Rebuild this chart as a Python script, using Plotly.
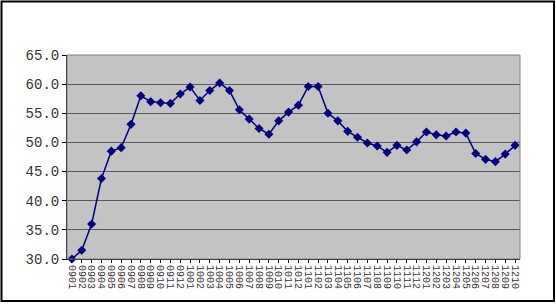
import plotly.graph_objects as go

months = ["0901","0902","0903","0904","0905","0906","0907","0908","0909","0910","0911","0912",
          "1001","1002","1003","1004","1005","1006","1007","1008","1009","1010","1011","1012",
          "1101","1102","1103","1104","1105","1106","1107","1108","1109","1110","1111","1112",
          "1201","1202","1203","1204","1205","1206","1207","1208","1209","1210"]
values = [30.0, 31.5, 36.0, 43.8, 48.5, 49.1, 53.1, 58.0, 57.0, 56.8, 56.7, 58.3,
          59.5, 57.2, 58.9, 60.2, 58.9, 55.6, 54.0, 52.4, 51.4, 53.7, 55.2, 56.4,
          59.6, 59.6, 55.0, 53.7, 51.9, 50.9, 49.9, 49.4, 48.3, 49.5, 48.7, 50.1,
          51.8, 51.3, 51.1, 51.8, 51.6, 48.1, 47.1, 46.7, 48.0, 49.5]
yticks = [30, 35, 40, 45, 50, 55, 60, 65]
ytick_text = ["30.0", "35.0", "40.0", "45.0", "50.0", "55.0", "60.0", "65.0"]

W, H = 556, 305
L, R, T, B = 67, 36, 55, 46
pw, ph = W - L - R, H - T - B

fig = go.Figure()
fig.add_trace(go.Scatter(
    x=months, y=values, mode="lines+markers",
    line=dict(color="#000080", width=1.5),
    marker=dict(symbol="diamond", size=7, color="#000080"),
    cliponaxis=False,
))

def px(x):
    return (x - L) / pw

def py(y):
    return 1 - (y - T) / ph

fig.update_layout(
    width=W, height=H,
    margin=dict(l=L, r=R, t=T, b=B),
    paper_bgcolor="white",
    plot_bgcolor="#c3c3c3",
    showlegend=False,
    font=dict(family="Liberation Mono", size=12, color="#333333"),
    xaxis=dict(
        type="category", range=[-0.5, len(months) - 0.5],
        tickmode="array", tickvals=months, ticktext=months,
        tickangle=90, ticks="outside", ticklen=3, tickcolor="black",
        showline=True, linecolor="black", linewidth=1,
        showgrid=False, tickfont=dict(size=10, family="Liberation Mono"),
    ),
    yaxis=dict(
        range=[30, 65], tickvals=yticks, ticktext=ytick_text,
        ticks="outside", ticklen=4, tickcolor="black",
        showline=True, linecolor="black", linewidth=1,
        showgrid=True, gridcolor="#5a5a5a", gridwidth=1,
        zeroline=False, tickfont=dict(size=14, family="Liberation Mono"),
    ),
    shapes=[
        dict(type="rect", xref="paper", yref="paper",
             x0=px(1.5), x1=px(554), y0=py(301), y1=py(1.5),
             line=dict(color="black", width=2), fillcolor="rgba(0,0,0,0)", layer="below"),
        dict(type="rect", xref="paper", yref="paper",
             x0=0, x1=1, y0=0, y1=1,
             line=dict(color="#808080", width=1), fillcolor="rgba(0,0,0,0)"),
    ],
)

fig.write_html("out.html")
